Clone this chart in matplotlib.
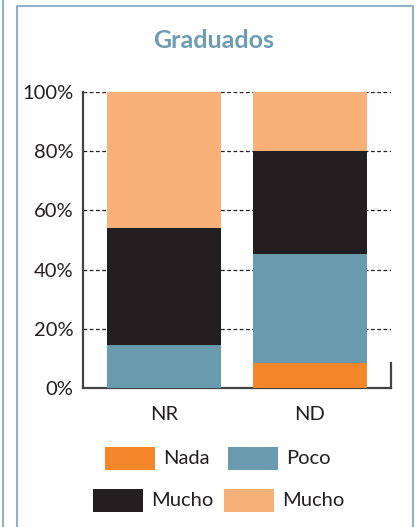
import matplotlib.pyplot as plt
from matplotlib.patches import Rectangle
from matplotlib.lines import Line2D

plt.rcParams['font.family'] = ['Lato', 'DejaVu Sans']

# datos
categorias = ['NR', 'ND']
nada = [0, 8.4]
poco = [14.5, 36.9]
mucho = [39.5, 34.7]
mucho_claro = [46.0, 20.0]

series = [nada, poco, mucho, mucho_claro]
etiquetas = ['Nada', 'Poco', 'Mucho', 'Mucho']
colores = ['#F4862B', '#6A9AAD', '#231F20', '#F9AF78']
yticks = [0, 20, 40, 60, 80, 100]

W, H = 419, 527
fig = plt.figure(figsize=(W / 100, H / 100), dpi=100)
ax = fig.add_axes([83 / W, 1 - 388 / H, (391 - 83) / W, (388 - 92) / H])

x = range(len(categorias))
abajo = [0] * len(categorias)
for vals, col in zip(series, colores):
    ax.bar(x, vals, bottom=abajo, width=0.78, color=col, zorder=3, clip_on=False)
    abajo = [a + v for a, v in zip(abajo, vals)]

ax.set_xlim(-0.555, 1.555)
ax.set_ylim(0, 100)
ax.set_yticks(yticks)
ax.set_yticklabels([f'{t}%' for t in yticks])
ax.set_xticks(list(x))
ax.set_xticklabels(categorias)
ax.tick_params(axis='y', length=0, pad=7, labelsize=14.5, colors='#231F20')
ax.tick_params(axis='x', length=0, pad=13, labelsize=14.5, colors='#231F20')

for t in yticks[1:]:
    ax.axhline(t, color='#231F20', lw=0.9, ls=(0, (3, 2)), zorder=1)

for s in ['top', 'right']:
    ax.spines[s].set_visible(False)
ax.spines['left'].set_color('#444444')
ax.spines['left'].set_linewidth(1.6)
ax.spines['bottom'].set_color('#444444')
ax.spines['bottom'].set_linewidth(1.6)
ax.plot([1, 1], [0, 0.085], transform=ax.transAxes, color='#444444', lw=1.6, clip_on=False)

fig.text(214 / W, 1 - 40 / H, 'Graduados', ha='center', va='center',
         fontsize=18, fontweight='bold', color='#6E9CB2')

# leyenda manual
pos_leyenda = [(105, 447), (228, 447), (93, 489), (224, 489)]
for (px, py), lab, col in zip(pos_leyenda, etiquetas, colores):
    fig.add_artist(Rectangle((px / W, 1 - (py + 23) / H), 50 / W, 23 / H,
                             transform=fig.transFigure, color=col, lw=0))
    fig.text((px + 58) / W, 1 - (py + 12) / H, lab, ha='left', va='center',
             fontsize=14.5, color='#231F20')

# marcos
marco = '#8FB3C6'
fig.add_artist(Line2D([17 / W, 17 / W, 413 / W, 413 / W], [0, 1 - 6 / H, 1 - 6 / H, 0],
                      transform=fig.transFigure, color=marco, lw=1.5))
fig.add_artist(Line2D([3 / W, 3 / W], [0, 1], transform=fig.transFigure, color=marco, lw=1.5))

fig.savefig('out.png', dpi=100)
